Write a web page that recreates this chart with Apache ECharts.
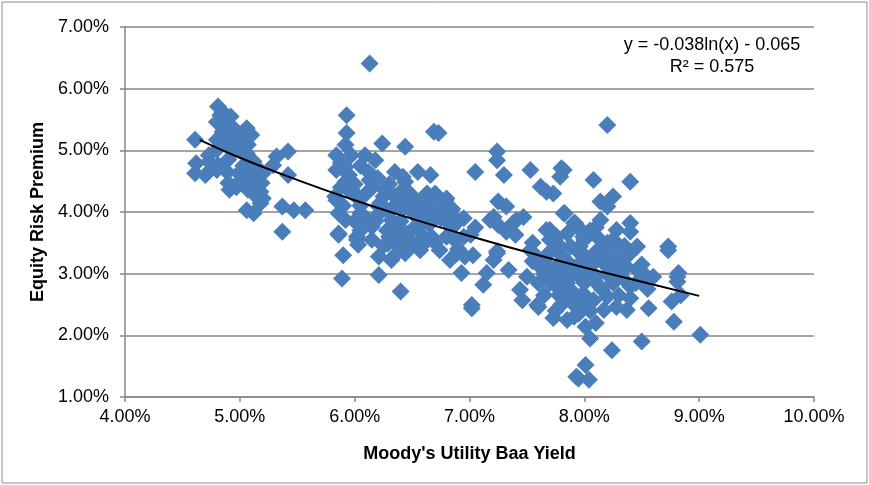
<!DOCTYPE html>
<html>
<head>
<meta charset="utf-8">
<script src="https://cdn.jsdelivr.net/npm/echarts@6/dist/echarts.min.js"></script>
<style>
html,body{margin:0;padding:0;background:#fff;}
#chart{width:869px;height:485px;}
</style>
</head>
<body>
<div id="chart"></div>
<script>
// Scatter points [Moody's Utility Baa Yield %, Equity Risk Premium %]
const pointsLow = [
  [4.81,5.71],[4.83,5.57],[4.80,5.46],[4.89,5.44],[4.85,5.30],[5.06,5.36],[5.05,5.22],[4.94,5.20],
  [4.61,5.17],[4.80,5.17],[4.89,5.09],[4.98,5.09],[5.07,5.09],[4.80,5.01],[4.94,4.98],[5.06,4.95],
  [5.42,4.98],[5.32,4.90],[4.73,4.92],[4.62,4.79],[4.73,4.82],[4.81,4.76],[5.12,4.82],[5.29,4.76],
  [4.61,4.63],[4.70,4.60],[4.80,4.68],[4.89,4.65],[4.99,4.63],[5.10,4.65],[5.20,4.63],[5.42,4.60],
  [4.90,4.47],[5.00,4.49],[5.10,4.47],[5.19,4.47],[4.91,4.36],[5.07,4.36],[5.18,4.33],[5.20,4.22],
  [5.13,4.28],[5.06,4.03],[5.12,3.98],[5.18,4.14],[5.37,4.09],[5.47,4.03],[5.57,4.03],[5.37,3.68],
  [4.85,5.62],[4.88,5.50],[4.95,5.35],[5.00,5.15],[4.90,4.85],[5.03,4.75],[5.15,4.55],[5.08,4.55],
  [4.97,4.40],[5.12,4.40],[5.00,5.00],[5.10,5.25],[4.92,5.55],[5.02,5.28],[4.86,5.38],[5.15,4.72]
];
const pointsMid = [
  [6.13,6.41],[5.93,5.57],[5.93,5.28],[5.92,5.09],[6.24,5.11],[6.44,5.06],[6.69,5.30],[6.73,5.28],
  [5.84,4.92],[5.97,4.92],[6.09,4.92],[6.18,4.84],[5.84,4.68],[5.92,4.73],[6.13,4.52],[6.35,4.65],
  [6.42,4.57],[6.55,4.65],[6.66,4.60],[5.92,4.49],[6.26,4.36],[6.44,4.49],[6.61,4.25],[6.79,4.19],
  [5.83,4.25],[6.03,4.22],[6.21,4.09],[6.41,4.03],[5.86,3.98],[5.84,4.19],[5.86,3.65],[6.03,4.25],
  [6.05,3.98],[6.02,3.60],[6.16,4.41],[6.22,4.14],[6.34,4.09],[6.42,4.36],[6.63,4.30],[6.67,4.19],
  [6.80,4.22],[6.86,3.92],[6.54,3.92],[6.37,3.71],[7.01,3.63],[5.90,3.30],[5.89,2.92],[6.21,2.98],
  [6.40,2.71],[6.21,3.28],[6.34,3.28],[6.57,3.38],[6.89,3.33],[6.93,3.01],[7.02,2.44],[6.74,3.38],
  [6.03,3.47],[6.41,3.44],[5.86,3.63],[6.02,3.55],[6.32,3.22],[6.44,3.33],[6.58,3.44],[5.92,3.87],
  [6.15,3.76],[6.32,3.87],[6.50,3.71],[6.67,3.60],[6.79,3.87],[6.15,3.55],[6.29,3.49],[6.61,4.09],
  [6.70,3.98],[6.47,4.09],[5.95,4.35],[6.00,4.45],[6.05,4.10],[6.10,4.30],[6.10,3.90],[6.20,3.95],
  [6.25,4.25],[6.30,4.00],[6.30,3.60],[6.35,4.25],[6.35,3.75],[6.40,3.85],[6.40,4.20],[6.45,3.65],
  [6.50,4.00],[6.50,3.50],[6.55,3.75],[6.55,4.15],[6.60,3.60],[6.60,3.95],[6.65,3.80],[6.70,3.50],
  [6.70,4.30],[6.75,3.90],[6.75,4.05],[6.80,3.60],[6.85,3.75],[6.90,3.85],[6.90,3.40],[6.95,3.60],
  [6.00,3.85],[6.05,3.70],[6.25,3.45],[6.35,3.50],[6.45,3.40],[5.88,4.40],[5.90,4.10],[6.20,4.55],
  [6.30,4.45],[6.48,4.30],[6.85,4.05],[6.95,3.90],[7.05,3.75],[6.83,3.22],[6.96,3.28],[6.87,3.55],
  [5.95,4.60],[6.05,4.75],[5.88,4.80],[6.12,4.65],[6.28,3.70],[6.42,3.55],[6.58,3.52],[6.18,3.85]
];
const pointsHigh = [
  [7.24,4.98],[7.24,4.84],[7.05,4.65],[7.30,4.60],[7.53,4.68],[7.62,4.41],[7.73,4.30],[7.79,4.57],
  [7.67,4.33],[7.80,4.71],[7.25,4.17],[7.32,4.09],[7.18,3.87],[7.25,3.79],[7.41,3.87],[7.47,3.92],
  [7.40,3.63],[7.32,3.68],[7.21,3.92],[7.38,3.82],[7.21,3.22],[7.24,3.36],[7.34,3.06],[7.15,3.01],
  [7.12,2.82],[7.53,3.38],[7.50,2.95],[7.44,2.74],[7.46,2.57],[7.02,2.49],[7.70,3.71],[7.82,3.98],
  [7.70,3.55],[7.79,3.44],[7.70,3.01],[7.76,2.79],[7.79,2.63],[7.59,2.49],[7.60,2.46],[7.73,2.28],
  [7.85,2.25],[7.93,1.33],[7.03,3.30],[7.24,3.33],[7.91,3.82],[7.67,3.71],[7.76,3.60],
  [8.20,5.41],[7.82,4.68],[8.08,4.52],[8.40,4.49],[8.14,4.17],[8.25,4.25],[8.20,4.09],[7.83,3.98],
  [8.14,3.87],[8.40,3.82],[8.40,3.68],[7.92,3.82],[7.85,3.65],[7.99,3.60],[8.11,3.60],[8.28,3.71],
  [8.46,3.44],[8.73,3.44],[7.96,3.44],[8.17,3.44],[8.73,3.38],[8.82,3.01],[8.81,2.87],[8.46,3.06],
  [8.53,2.98],[8.40,2.79],[8.56,2.44],[8.37,2.41],[8.76,2.55],[8.84,2.65],[8.78,2.22],[9.01,2.01],
  [8.50,1.90],[8.24,1.76],[8.01,1.52],[7.95,1.30],[8.04,1.28],[8.05,1.95],[8.01,2.14],[8.17,2.41],
  [8.28,2.46],[8.20,2.63],[8.08,2.57],[7.93,2.46],[7.99,2.68],[7.88,2.74],[8.35,2.90],[8.22,2.95],
  [8.11,2.84],[7.96,2.95],[7.85,3.06],[8.08,3.17],[8.22,3.11],[8.31,3.22],[8.40,3.33],[7.96,3.33],
  [8.14,3.38],[8.37,3.11],[7.88,3.44],[7.79,2.95],[7.79,2.68],[7.91,2.30],[8.81,2.95],
  [7.65,3.20],[7.70,3.35],[7.75,3.10],[7.80,3.30],[7.85,3.20],[7.90,3.00],[7.95,3.15],[8.00,3.30],
  [8.00,2.85],[8.05,3.05],[8.10,3.35],[8.10,2.95],[8.15,3.20],[8.15,2.75],[8.20,3.00],[8.25,2.85],
  [8.25,3.30],[8.30,3.05],[8.30,2.65],[8.35,3.45],[8.40,2.60],[8.45,2.85],[8.50,3.15],[8.55,2.75],
  [8.60,2.95],[7.90,2.60],[7.95,2.35],[8.00,2.55],[8.05,2.40],[8.10,2.20],[7.85,2.85],[7.80,2.50],
  [7.75,2.40],[7.70,2.85],[7.65,3.00],[7.60,3.25],[8.00,3.55],[8.05,3.70],[7.95,3.75],[8.25,3.55],
  [8.30,3.45],[8.20,3.50],[8.10,3.75],[7.55,3.20],[7.62,3.10],[7.55,3.50],[7.65,2.65],[7.60,2.85]
];
// Logarithmic trend line, read at a few x positions from the picture
const trendX = [4.65, 5.0, 5.5, 6.0, 6.5, 7.0, 7.5, 8.0, 8.5, 9.0];
const trendY = [5.17, 4.88, 4.52, 4.19, 3.89, 3.61, 3.35, 3.10, 2.87, 2.64];
const xTicks = {min: 4, max: 10, step: 1};
const yTicks = {min: 1, max: 7, step: 1};
const equationText = 'y = -0.038ln(x) - 0.065';
const r2Text = 'R² = 0.575';
const xTitle = "Moody's Utility Baa Yield";
const yTitle = 'Equity Risk Premium';

const FONT = '"Liberation Sans", Arial, sans-serif';
const GRID = '#868686';
const chart = echarts.init(document.getElementById('chart'));
const pct = v => v.toFixed(2) + '%';
chart.setOption({
  animation: false,
  backgroundColor: '#fff',
  grid: {left: 125, right: 55, top: 27, bottom: 88},
  xAxis: {
    type: 'value', min: xTicks.min, max: xTicks.max, interval: xTicks.step,
    axisLine: {show: true, lineStyle: {color: GRID, width: 1.5}},
    axisTick: {show: true, length: 5, lineStyle: {color: GRID, width: 1.5}},
    splitLine: {show: false},
    axisLabel: {formatter: pct, fontSize: 18, color: '#000', fontFamily: FONT, margin: 11},
    name: xTitle, nameLocation: 'middle', nameGap: 48,
    nameTextStyle: {fontSize: 18, fontWeight: 'bold', color: '#000', fontFamily: FONT}
  },
  yAxis: {
    type: 'value', min: yTicks.min, max: yTicks.max, interval: yTicks.step,
    axisLine: {show: true, lineStyle: {color: GRID, width: 1.5}},
    axisTick: {show: true, length: 5, lineStyle: {color: GRID, width: 1.5}},
    splitLine: {show: true, lineStyle: {color: GRID, width: 1.5}},
    axisLabel: {formatter: pct, fontSize: 18, color: '#000', fontFamily: FONT, margin: 16},
    name: yTitle, nameLocation: 'middle', nameGap: 70, nameRotate: 90,
    nameTextStyle: {fontSize: 18, fontWeight: 'bold', color: '#000', fontFamily: FONT}
  },
  graphic: [
    {type: 'rect', shape: {x: 2, y: 2, width: 865, height: 481},
     style: {fill: 'none', stroke: '#8c8c8c', lineWidth: 1}, silent: true},
    {type: 'text', x: 712, y: 45, style: {text: equationText, fontSize: 18, fontFamily: FONT, fill: '#000', align: 'center', verticalAlign: 'middle'}},
    {type: 'text', x: 712, y: 67, style: {text: r2Text, fontSize: 18, fontFamily: FONT, fill: '#000', align: 'center', verticalAlign: 'middle'}}
  ],
  series: [
    {
      type: 'scatter', symbol: 'diamond', symbolSize: 18,
      itemStyle: {color: '#4a7ebb', opacity: 1},
      data: pointsLow.concat(pointsMid, pointsHigh),
      z: 2
    },
    {
      type: 'line', smooth: true, showSymbol: false, symbol: 'none',
      lineStyle: {color: '#000', width: 2},
      data: trendX.map((x, i) => [x, trendY[i]]),
      z: 3
    }
  ]
});
</script>
</body>
</html>
